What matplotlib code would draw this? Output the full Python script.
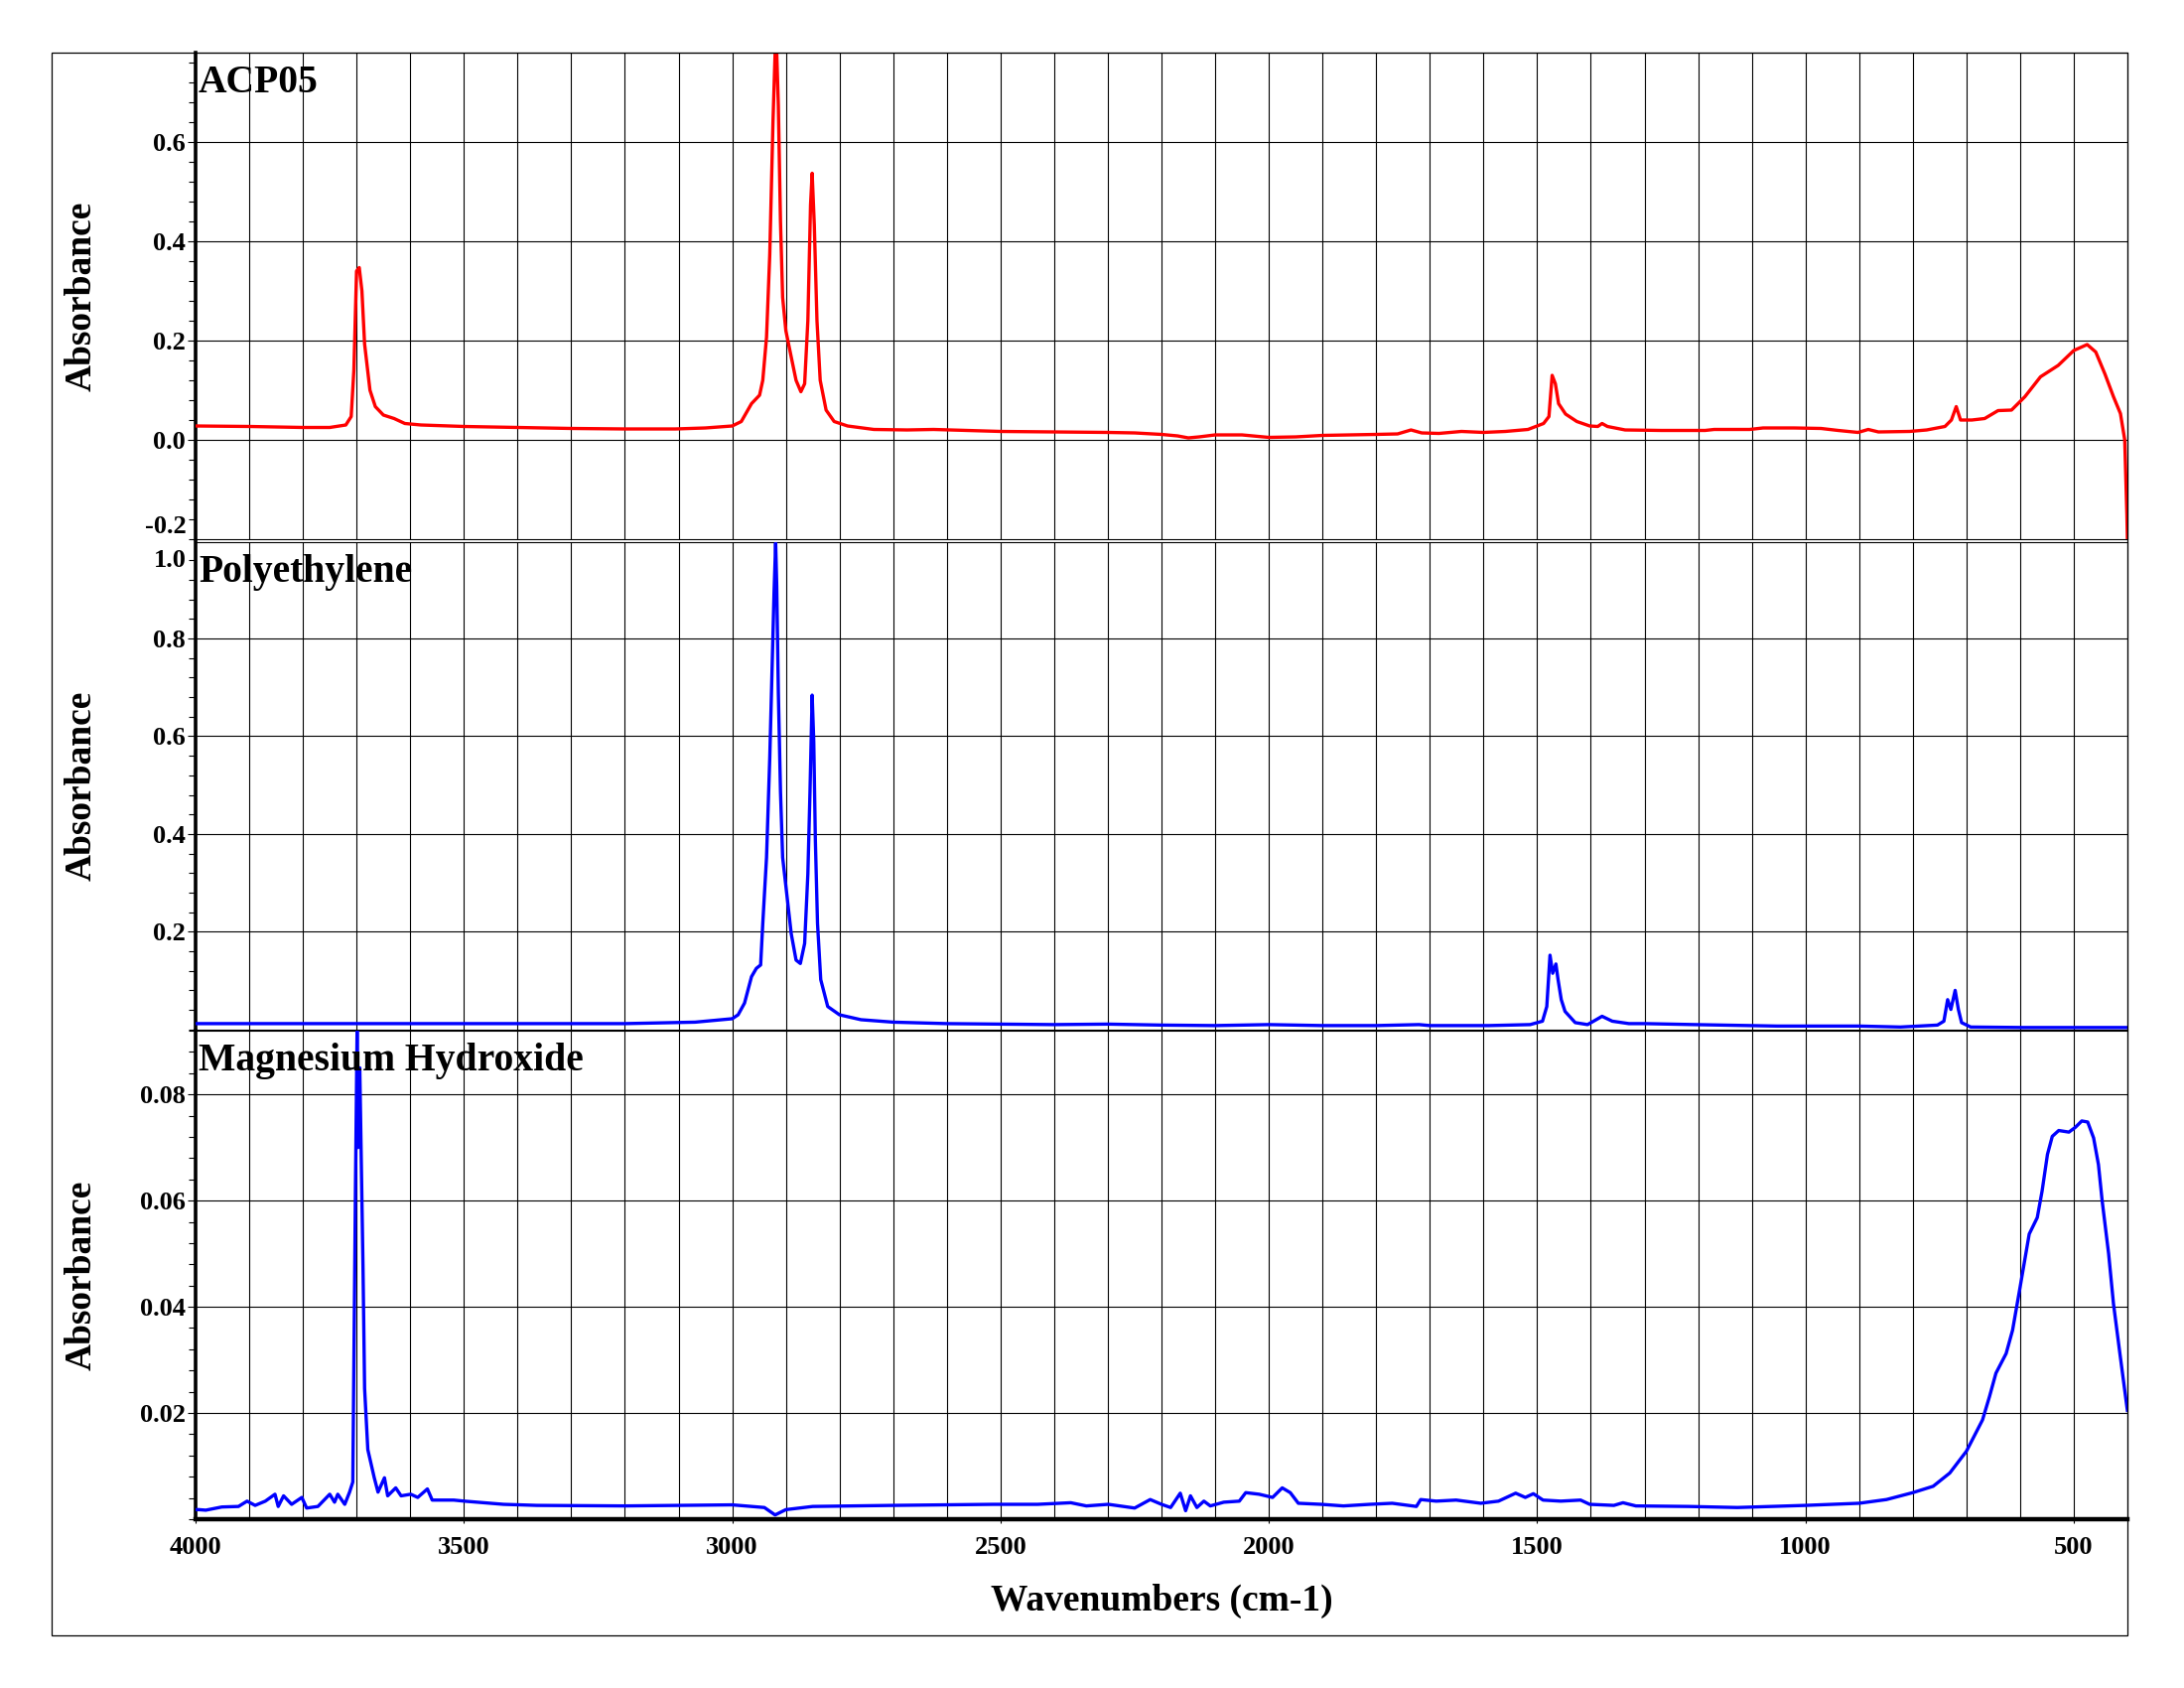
import numpy as np
import matplotlib
matplotlib.use("Agg")
import matplotlib.pyplot as plt
from matplotlib.patches import Rectangle

plt.rcParams['font.family'] = ['Liberation Serif', 'DejaVu Serif']
plt.rcParams['font.weight'] = 'bold'

acp_wn = [4000, 3900, 3800, 3750, 3720, 3710, 3705, 3700, 3695, 3690, 3685, 3675, 3665, 3650,
          3630, 3610, 3580, 3500, 3400, 3300, 3200, 3106, 3050, 3000, 2983, 2964, 2949, 2943,
          2936, 2930, 2924, 2920, 2917, 2914, 2910, 2906, 2900, 2890, 2881, 2872, 2865, 2859,
          2854, 2851, 2847, 2842, 2836, 2825, 2810, 2785, 2736, 2674, 2625, 2500, 2400, 2300,
          2250, 2200, 2170, 2150, 2130, 2100, 2050, 2000, 1950, 1900, 1800, 1760, 1735, 1715,
          1683, 1641, 1600, 1559, 1517, 1488, 1478, 1472, 1466, 1460, 1447, 1426, 1402, 1387,
          1379, 1369, 1336, 1269, 1187, 1170, 1104, 1079, 1021, 971, 939, 902, 883, 864, 806,
          774, 740, 728, 719, 711, 690, 666, 641, 616, 591, 562, 529, 500, 475, 459, 442, 426,
          413, 405, 401, 400]
acp_abs = [0.028, 0.027, 0.025, 0.025, 0.03, 0.047, 0.14, 0.34, 0.347, 0.30, 0.193, 0.10, 0.067, 0.05,
           0.043, 0.033, 0.03, 0.027, 0.025, 0.023, 0.022, 0.022, 0.024, 0.028, 0.037, 0.073, 0.09, 0.12,
           0.207, 0.373, 0.64, 0.78, 0.78, 0.673, 0.44, 0.287, 0.22, 0.167, 0.12, 0.097, 0.113, 0.24,
           0.473, 0.537, 0.433, 0.24, 0.12, 0.06, 0.037, 0.028, 0.021, 0.02, 0.021, 0.017, 0.016, 0.015,
           0.014, 0.011, 0.008, 0.004, 0.006, 0.01, 0.01, 0.005, 0.006, 0.009, 0.011, 0.012, 0.02, 0.014,
           0.013, 0.017, 0.015, 0.017, 0.021, 0.033, 0.047, 0.13, 0.113, 0.073, 0.052, 0.037, 0.028, 0.027,
           0.033, 0.027, 0.02, 0.019, 0.019, 0.021, 0.021, 0.024, 0.024, 0.023, 0.019, 0.015, 0.021, 0.016, 0.017,
           0.02, 0.027, 0.04, 0.067, 0.04, 0.04, 0.043, 0.059, 0.06, 0.087, 0.127, 0.15, 0.18, 0.192, 0.177, 0.133, 0.087,
           0.053, 0.0, -0.15, -0.2]

pe_wn = [4000, 3800, 3600, 3400, 3200, 3069, 3000, 2989, 2977, 2964, 2955, 2947, 2943, 2936,
         2930, 2926, 2922, 2919, 2917, 2914, 2910, 2906, 2899, 2890, 2881, 2873, 2865, 2859,
         2855, 2851, 2848, 2845, 2841, 2835, 2822, 2800, 2760, 2700, 2600, 2500, 2400, 2300,
         2200, 2100, 2000, 1900, 1800, 1720, 1700, 1590, 1513, 1490, 1482, 1476, 1471, 1465,
         1461, 1455, 1448, 1429, 1406, 1390, 1379, 1360, 1329, 1298, 1206, 1053, 900, 823,
         754, 742, 735, 729, 721, 715, 709, 692, 593, 400]
pe_abs = [0.012, 0.012, 0.012, 0.012, 0.012, 0.015, 0.022, 0.03, 0.054, 0.108, 0.125, 0.132, 0.217, 0.352,
          0.555, 0.724, 0.894, 0.995, 0.907, 0.69, 0.487, 0.352, 0.284, 0.196, 0.142, 0.135, 0.176, 0.318,
          0.487, 0.684, 0.589, 0.386, 0.217, 0.102, 0.047, 0.03, 0.02, 0.015, 0.012, 0.011, 0.01, 0.011,
          0.009, 0.008, 0.01, 0.008, 0.008, 0.01, 0.008, 0.008, 0.01, 0.017, 0.047, 0.152, 0.115, 0.134,
          0.102, 0.061, 0.037, 0.014, 0.01, 0.02, 0.027, 0.017, 0.012, 0.012, 0.01, 0.007, 0.007, 0.005,
          0.009, 0.017, 0.061, 0.041, 0.08, 0.041, 0.014, 0.005, 0.004, 0.004]

mg_wn = [4000, 3994, 3981, 3951, 3920, 3904, 3889, 3870, 3852, 3846, 3836, 3821, 3802, 3793, 3772,
         3750, 3741, 3735, 3722, 3713, 3707, 3702, 3699, 3697, 3694, 3688, 3685, 3679, 3667, 3660,
         3648, 3642, 3627, 3617, 3599, 3586, 3568, 3559, 3519, 3499, 3426, 3364, 3200, 3000, 2940,
         2920, 2900, 2850, 2700, 2514, 2431, 2369, 2340, 2299, 2250, 2221, 2200, 2183, 2165, 2155,
         2146, 2134, 2121, 2109, 2084, 2055, 2043, 2018, 1993, 1975, 1960, 1945, 1902, 1861, 1812,
         1770, 1725, 1717, 1688, 1651, 1605, 1572, 1540, 1522, 1507, 1489, 1456, 1419, 1402, 1357,
         1340, 1316, 1218, 1127, 1000, 900, 849, 800, 762, 731, 700, 670, 657, 645, 626, 614, 600,
         583, 568, 559, 549, 540, 528, 509, 497, 485, 474, 463, 454, 447, 435, 426, 414, 401, 400]
mg_abs = [0.0018, 0.0018, 0.0017, 0.0023, 0.0024, 0.0034, 0.0026, 0.0034, 0.0047, 0.0024, 0.0044, 0.0028, 0.0041, 0.0021, 0.0024,
          0.0047, 0.0032, 0.0047, 0.0028, 0.0051, 0.007, 0.0628, 0.092, 0.07, 0.085, 0.0476, 0.0246, 0.0131, 0.0078, 0.0051,
          0.0078, 0.0044, 0.0059, 0.0044, 0.0047, 0.0041, 0.0057, 0.0036, 0.0036, 0.0034, 0.0028, 0.0026, 0.0025, 0.0027, 0.0022,
          0.0008, 0.0018, 0.0024, 0.0026, 0.0028, 0.0028, 0.0031, 0.0025, 0.0028, 0.0021, 0.0037, 0.0028, 0.0022, 0.0049, 0.0016,
          0.0044, 0.0022, 0.0034, 0.0025, 0.0032, 0.0034, 0.005, 0.0047, 0.0041, 0.0059, 0.005, 0.003, 0.0028, 0.0025, 0.0028,
          0.003, 0.0024, 0.0037, 0.0034, 0.0036, 0.003, 0.0034, 0.0049, 0.0041, 0.0048, 0.0036, 0.0034, 0.0036, 0.0028, 0.0026,
          0.0031, 0.0025, 0.0024, 0.0022, 0.0026, 0.003, 0.0037, 0.005, 0.0062, 0.0087, 0.0128, 0.0187, 0.0231, 0.0275, 0.0312, 0.0356, 0.0437,
          0.0537, 0.0568, 0.0618, 0.0687, 0.0721, 0.0732, 0.0729, 0.0738, 0.075, 0.0748, 0.0718, 0.0668, 0.0599, 0.05, 0.0406, 0.0312, 0.0212, 0.0205]

names = ["ACP05", "Polyethylene", "Magnesium Hydroxide"]
colors = ["#ff0000", "#0000ff", "#0000ff"]
ylims = [(-0.2, 0.78), (0.0, 0.997), (0.0, 0.092)]
yticks = [[0.0, 0.2, 0.4, 0.6], [0.2, 0.4, 0.6, 0.8], [0.02, 0.04, 0.06, 0.08]]
ylabels = [["0.0", "0.2", "0.4", "0.6"], ["0.2", "0.4", "0.6", "0.8"], ["0.02", "0.04", "0.06", "0.08"]]
minor_step = [0.04, 0.04, 0.004]
xticks = [4000, 3500, 3000, 2500, 2000, 1500, 1000, 500]

W, H = 2200, 1700
fig = plt.figure(figsize=(22, 17), dpi=100)

# cadre exterieur
fig.patches.append(Rectangle((52 / W, 1 - 1647 / H), (2143 - 52) / W, (1647 - 53) / H,
                             transform=fig.transFigure, fill=False, lw=0.9, ec='black'))

# positions des panneaux en pixels (haut, bas)
rows = [(53, 543), (546, 1036.8), (1038, 1530)]
left, right = 197, 2143
series = [(acp_wn, acp_abs), (pe_wn, pe_abs), (mg_wn, mg_abs)]

for i, (top, bot) in enumerate(rows):
    ax = fig.add_axes([left / W, 1 - bot / H, (right - left) / W, (bot - top) / H])
    wn, ab = series[i]
    ax.plot(wn, ab, color=colors[i], lw=2.4, zorder=3)
    ax.set_xlim(4000, 400)
    ax.set_ylim(*ylims[i])

    ax.set_xticks(xticks)
    ax.set_xticks(np.arange(500, 4000, 100), minor=True)
    ax.set_yticks(yticks[i])
    ax.set_yticklabels(ylabels[i])
    lo, hi = ylims[i]
    ax.set_yticks(np.arange(lo, hi + 1e-9, minor_step[i]), minor=True)

    ax.set_axisbelow(True)
    ax.grid(which='both', axis='x', color='black', lw=0.8)
    ax.grid(which='major', axis='y', color='black', lw=0.8)

    ax.tick_params(axis='y', which='major', direction='out', length=6, width=0.8, pad=1.5, labelsize=19)
    ax.tick_params(axis='y', which='minor', direction='out', length=5, width=0.8)
    ax.tick_params(axis='x', which='minor', length=0)
    if i < 2:
        ax.tick_params(axis='x', which='major', length=0, labelbottom=False)
    else:
        ax.tick_params(axis='x', which='major', direction='out', length=3, width=0.8, pad=9, labelsize=19)

    for s in ['top', 'right', 'bottom']:
        ax.spines[s].set_linewidth(0.8)
    ax.spines['left'].set_linewidth(2.6)
    if i == 2:
        ax.spines['bottom'].set_linewidth(3.2)

    # nom de l'echantillon
    fig.text(200 / W, 1 - (top + 40) / H, names[i], fontsize=28.5, fontweight='bold',
             ha='left', va='baseline', zorder=5)
    # titre axe y
    fig.text(82 / W, 1 - (top + bot) / 2 / H, "Absorbance", fontsize=27, fontweight='bold',
             rotation=90, ha='center', va='center')

    # etiquettes aux bords
    if i == 0:
        ax.annotate("-0.2", xy=(0, -0.2), xycoords=('axes fraction', 'data'),
                    xytext=(-7, 4.5), textcoords='offset points', ha='right', va='baseline', fontsize=19)
    if i == 1:
        ax.annotate("1.0", xy=(0, ylims[1][1]), xycoords=('axes fraction', 'data'),
                    xytext=(-7, -18), textcoords='offset points', ha='right', va='baseline', fontsize=19)

fig.text(1170 / W, 1 - 1612 / H, "Wavenumbers (cm-1)", fontsize=27, fontweight='bold',
         ha='center', va='center')

fig.savefig("out.png", dpi=100, facecolor='white')
